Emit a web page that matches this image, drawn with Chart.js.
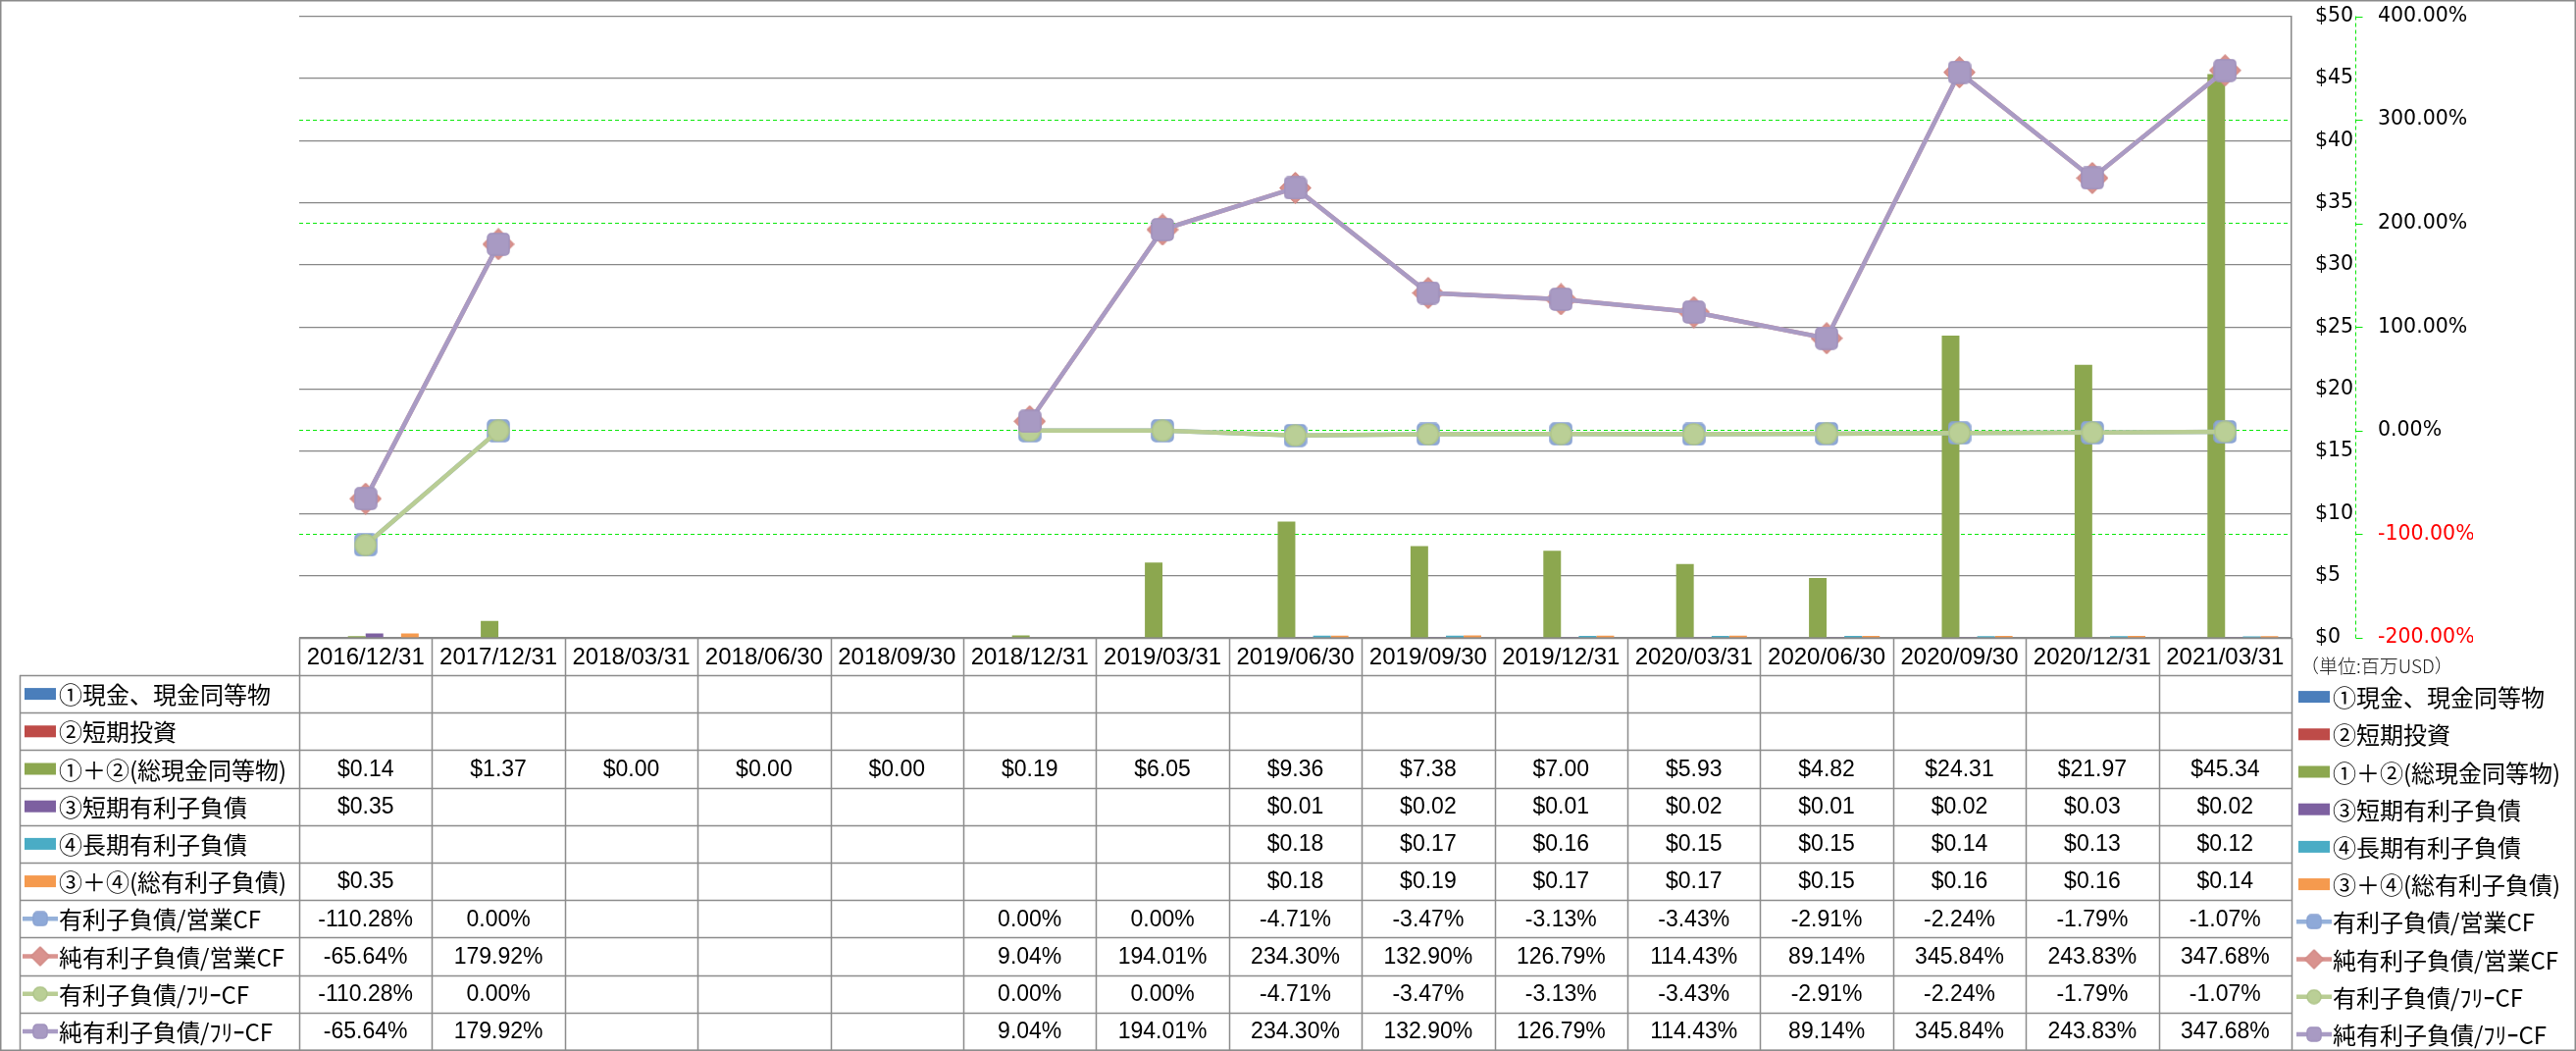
<!DOCTYPE html>
<html><head><meta charset="utf-8">
<script src="https://cdn.jsdelivr.net/npm/chart.js@4.4.1/dist/chart.umd.min.js"></script>
<style>html,body{margin:0;padding:0;background:#fff}canvas{display:block}</style>
</head><body>
<canvas id="c" width="2626" height="1071"></canvas>
<script>
// ---------- data ----------
const categories = ['2016/12/31','2017/12/31','2018/03/31','2018/06/30','2018/09/30','2018/12/31','2019/03/31','2019/06/30','2019/09/30','2019/12/31','2020/03/31','2020/06/30','2020/09/30','2020/12/31','2021/03/31'];
const cashEq      = [null,null,null,null,null,null,null,null,null,null,null,null,null,null,null];
const shortInvest = [null,null,null,null,null,null,null,null,null,null,null,null,null,null,null];
const totalCash   = [0.14,1.37,0.00,0.00,0.00,0.19,6.05,9.36,7.38,7.00,5.93,4.82,24.31,21.97,45.34];
const shortDebt   = [0.35,null,null,null,null,null,null,0.01,0.02,0.01,0.02,0.01,0.02,0.03,0.02];
const longDebt    = [null,null,null,null,null,null,null,0.18,0.17,0.16,0.15,0.15,0.14,0.13,0.12];
const totalDebt   = [0.35,null,null,null,null,null,null,0.18,0.19,0.17,0.17,0.15,0.16,0.16,0.14];
const debtOpCF      = [-110.28,0.00,null,null,null,0.00,0.00,-4.71,-3.47,-3.13,-3.43,-2.91,-2.24,-1.79,-1.07];
const netDebtOpCF   = [-65.64,179.92,null,null,null,9.04,194.01,234.30,132.90,126.79,114.43,89.14,345.84,243.83,347.68];
const debtFreeCF    = [-110.28,0.00,null,null,null,0.00,0.00,-4.71,-3.47,-3.13,-3.43,-2.91,-2.24,-1.79,-1.07];
const netDebtFreeCF = [-65.64,179.92,null,null,null,9.04,194.01,234.30,132.90,126.79,114.43,89.14,345.84,243.83,347.68];
const seriesLabels = ['①現金、現金同等物','②短期投資','①＋②(総現金同等物)','③短期有利子負債','④長期有利子負債','③＋④(総有利子負債)','有利子負債/営業CF','純有利子負債/営業CF','有利子負債/ﾌﾘｰCF','純有利子負債/ﾌﾘｰCF'];
const unitLabel = '（単位:百万USD）';
const dollarRange = [0, 50, 5];
const pctRange = [-200, 400, 100];

// ---------- styles ----------
const barColors = ['#4A7EBB','#BE4B48','#8CA74F','#7D60A0','#4AACC5','#F59A4E'];
const lineColors = ['#95B1DA','#D9938F','#B9CD94','#A99BC4'];
const markerFill = ['#8EA9D8','#D9928E','#BACF96','#A89AC3'];
const markerStroke = ['#8AA3D2','#D38B87','#AFC58A','#A092BD'];
const GREEN = '#0BE80B';

function mk(shape, fill, stroke, s) {
  const c = document.createElement('canvas');
  c.width = s; c.height = s;
  const g = c.getContext('2d');
  g.fillStyle = fill; g.strokeStyle = stroke; g.lineWidth = 1.5; g.lineJoin = 'round';
  g.beginPath();
  if (shape === 'sq') { g.roundRect(1, 1, s - 2, s - 2, 4); }
  else if (shape === 'dia') { g.moveTo(s/2, 1); g.lineTo(s-1, s/2); g.lineTo(s/2, s-1); g.lineTo(1, s/2); g.closePath(); }
  else { g.arc(s/2, s/2, s/2 - 1, 0, Math.PI * 2); }
  g.fill(); g.stroke();
  return c;
}
const markers = [mk('sq', markerFill[0], markerStroke[0], 24), mk('dia', markerFill[1], markerStroke[1], 33), mk('ci', markerFill[2], markerStroke[2], 23), mk('sq', markerFill[3], markerStroke[3], 24)];
const legMarkers = [mk('sq', markerFill[0], markerStroke[0], 16), mk('dia', markerFill[1], markerStroke[1], 21), mk('ci', markerFill[2], markerStroke[2], 16), mk('sq', markerFill[3], markerStroke[3], 16)];

const barSeries = [cashEq, shortInvest, totalCash, shortDebt, longDebt, totalDebt];
const lineSeries = [debtOpCF, netDebtOpCF, debtFreeCF, netDebtFreeCF];

const datasets = [];
barSeries.forEach((d, i) => datasets.push({
  type: 'bar', label: seriesLabels[i], data: d, yAxisID: 'y', order: 10,
  backgroundColor: barColors[i], borderWidth: 0,
  categoryPercentage: 0.8, barPercentage: 0.995
}));
lineSeries.forEach((d, i) => datasets.push({
  type: 'line', label: seriesLabels[6 + i], data: d, yAxisID: 'y1', order: 4 - i,
  borderColor: lineColors[i], backgroundColor: lineColors[i], borderWidth: 4.5,
  tension: 0, spanGaps: false, pointStyle: markers[i], pointRadius: 12, pointHoverRadius: 12
}));

const W = 2626, H = 1071;
const tableTop = 688, tableBottom = 1070, labelLeft = 20;

const tablePlugin = {
  id: 'dataTable',
  afterDraw(chart) {
    const ctx = chart.ctx, area = chart.chartArea;
    const n = categories.length, colW = (area.right - area.left) / n;
    const rows = seriesLabels.length, rowH = (tableBottom - tableTop) / rows;
    ctx.save();
    // dashed secondary axis line + short tick marks
    const y1 = chart.scales.y1;
    const ax = Math.round(y1.left) + 0.5;
    ctx.strokeStyle = GREEN; ctx.lineWidth = 1;
    ctx.setLineDash([4, 3]);
    ctx.beginPath(); ctx.moveTo(ax, area.top); ctx.lineTo(ax, area.bottom); ctx.stroke();
    ctx.setLineDash([]);
    ctx.beginPath();
    y1.ticks.forEach(t => {
      const yy = Math.round(y1.getPixelForValue(t.value)) + 0.5;
      ctx.moveTo(ax, yy); ctx.lineTo(ax + 7, yy);
    });
    ctx.stroke();
    // outer border
    ctx.strokeStyle = '#8a8a8a'; ctx.lineWidth = 1.5;
    ctx.strokeRect(0.75, 0.75, W - 1.5, H - 1.5);
    // table grid
    ctx.strokeStyle = '#8c8c8c'; ctx.lineWidth = 1.5;
    ctx.beginPath();
    for (let i = 0; i <= n; i++) {
      const x = Math.round(area.left + i * colW) + 0.5;
      ctx.moveTo(x, area.bottom); ctx.lineTo(x, tableBottom);
    }
    ctx.moveTo(area.left, area.bottom + 0.5); ctx.lineTo(area.right, area.bottom + 0.5);
    for (let r = 0; r <= rows; r++) {
      const y = Math.round(tableTop + r * rowH) + 0.5;
      ctx.moveTo(labelLeft, y); ctx.lineTo(area.right, y);
    }
    ctx.moveTo(labelLeft + 0.5, tableTop); ctx.lineTo(labelLeft + 0.5, tableBottom);
    ctx.stroke();
    // header
    ctx.fillStyle = '#000'; ctx.textAlign = 'center'; ctx.textBaseline = 'middle';
    ctx.font = "24px 'Liberation Sans'";
    categories.forEach((c, i) => ctx.fillText(c, chart.scales.x.getPixelForValue(i), (area.bottom + tableTop) / 2 + 1));
    // values
    ctx.font = "23px 'Liberation Sans'";
    const all = barSeries.concat(lineSeries);
    all.forEach((d, r) => {
      const yc = tableTop + (r + 0.5) * rowH + 1;
      d.forEach((v, i) => {
        if (v === null || v === undefined) return;
        const s = r < 6 ? '$' + v.toFixed(2) : v.toFixed(2) + '%';
        ctx.fillText(s, chart.scales.x.getPixelForValue(i), yc);
      });
    });
    // legend keys (left table + right legend)
    const drawKey = (r, x0, yc) => {
      if (r < 6) {
        ctx.fillStyle = barColors[r]; ctx.fillRect(x0, yc - 6, 32, 12);
      } else {
        const k = r - 6;
        ctx.strokeStyle = lineColors[k]; ctx.lineWidth = 4.5;
        ctx.beginPath(); ctx.moveTo(x0 - 2, yc); ctx.lineTo(x0 + 34, yc); ctx.stroke();
        const m = legMarkers[k];
        ctx.drawImage(m, x0 + 16 - m.width / 2, yc - m.height / 2);
      }
    };
    ctx.textAlign = 'left';
    ctx.font = "24px 'Noto Sans CJK JP'";
    seriesLabels.forEach((lab, r) => {
      const yc = tableTop + (r + 0.5) * rowH;
      drawKey(r, 25, yc);
      ctx.fillStyle = '#000';
      ctx.fillText(lab, 60, yc + 1);
      const yr = yc + 3;
      drawKey(r, 2343, yr);
      ctx.fillStyle = '#000';
      ctx.fillText(lab, 2378, yr + 1);
    });
    // unit label
    ctx.font = "300 19px 'Noto Sans CJK JP'";
    ctx.fillStyle = '#222';
    ctx.fillText(unitLabel, 2345, 679);
    ctx.restore();
  }
};

new Chart(document.getElementById('c'), {
  type: 'bar',
  data: { labels: categories, datasets },
  options: {
    responsive: false, animation: false,
    layout: { padding: { left: 305, top: 15, bottom: H - 650, right: 105 } },
    plugins: { legend: { display: false }, tooltip: { enabled: false } },
    scales: {
      x: { display: false, offset: true },
      y: {
        position: 'right', weight: 0, min: dollarRange[0], max: dollarRange[1],
        ticks: { stepSize: dollarRange[2], padding: 0, color: '#000', font: { family: 'DejaVu Sans', size: 20.5, lineHeight: 1 },
          callback: v => '$' + v },
        grid: { color: '#878787', lineWidth: 1.2, drawTicks: true, tickLength: 24, tickColor: 'rgba(0,0,0,0)', z: -1 },
        border: { display: true, color: '#878787', width: 1.5 },
        afterFit: s => { s.width = 65; }
      },
      y1: {
        position: 'right', weight: 1, min: pctRange[0], max: pctRange[1],
        ticks: { stepSize: pctRange[2], padding: 0, font: { family: 'DejaVu Sans', size: 20.5, lineHeight: 1 },
          color: c => (c.tick && c.tick.value < 0) ? '#FF0000' : '#000',
          callback: v => v.toFixed(2) + '%' },
        grid: { color: GREEN, lineWidth: 1, drawTicks: true, tickLength: 23, tickColor: 'rgba(0,0,0,0)', z: -2 },
        border: { display: false, dash: [4, 3] },
        afterFit: s => { s.width = 120; }
      }
    }
  },
  plugins: [tablePlugin]
});
</script>
</body></html>
